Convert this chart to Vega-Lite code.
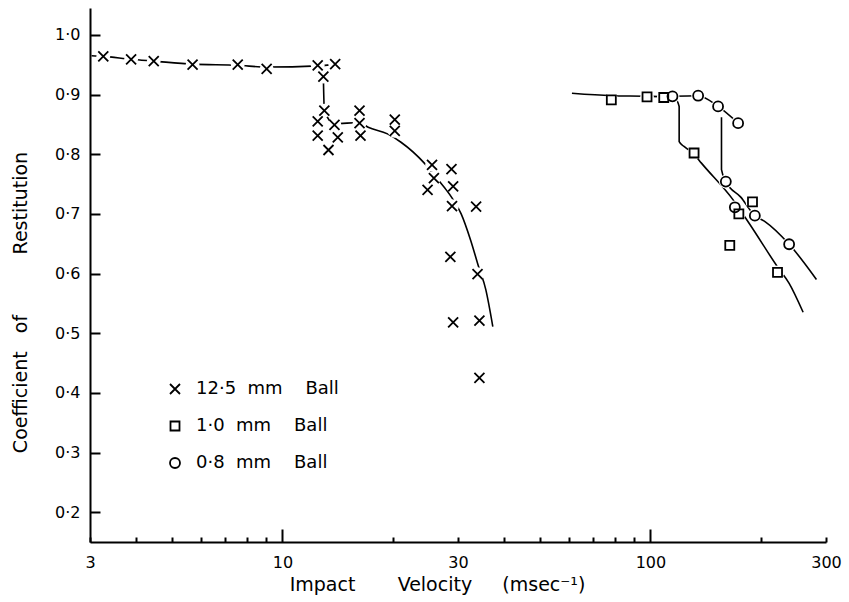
{
  "$schema": "https://vega.github.io/schema/vega-lite/v6.json",
  "autosize": "none",
  "width": 736,
  "height": 534,
  "padding": {"left": 90, "top": 8, "right": 23, "bottom": 60},
  "background": "white",
  "config": {
    "view": {"stroke": null},
    "font": "DejaVu Sans",
    "axis": {"grid": false, "domainColor": "black", "domainWidth": 2, "labelColor": "black", "titleColor": "black", "labelFont": "DejaVu Sans", "titleFont": "DejaVu Sans", "titleFontWeight": "normal"}
  },
  "datasets": {
    "points": [
      {"v": 3.26, "e": 0.964, "ball": "12·5 mm Ball"},
      {"v": 3.88, "e": 0.959, "ball": "12·5 mm Ball"},
      {"v": 4.47, "e": 0.956, "ball": "12·5 mm Ball"},
      {"v": 5.70, "e": 0.950, "ball": "12·5 mm Ball"},
      {"v": 7.56, "e": 0.950, "ball": "12·5 mm Ball"},
      {"v": 9.06, "e": 0.943, "ball": "12·5 mm Ball"},
      {"v": 12.47, "e": 0.949, "ball": "12·5 mm Ball"},
      {"v": 13.91, "e": 0.951, "ball": "12·5 mm Ball"},
      {"v": 12.92, "e": 0.930, "ball": "12·5 mm Ball"},
      {"v": 13.0, "e": 0.873, "ball": "12·5 mm Ball"},
      {"v": 12.47, "e": 0.855, "ball": "12·5 mm Ball"},
      {"v": 12.47, "e": 0.831, "ball": "12·5 mm Ball"},
      {"v": 13.85, "e": 0.849, "ball": "12·5 mm Ball"},
      {"v": 13.34, "e": 0.807, "ball": "12·5 mm Ball"},
      {"v": 14.14, "e": 0.828, "ball": "12·5 mm Ball"},
      {"v": 16.2, "e": 0.873, "ball": "12·5 mm Ball"},
      {"v": 16.2, "e": 0.852, "ball": "12·5 mm Ball"},
      {"v": 16.3, "e": 0.831, "ball": "12·5 mm Ball"},
      {"v": 20.2, "e": 0.858, "ball": "12·5 mm Ball"},
      {"v": 20.2, "e": 0.839, "ball": "12·5 mm Ball"},
      {"v": 25.5, "e": 0.782, "ball": "12·5 mm Ball"},
      {"v": 28.8, "e": 0.775, "ball": "12·5 mm Ball"},
      {"v": 25.8, "e": 0.760, "ball": "12·5 mm Ball"},
      {"v": 24.8, "e": 0.740, "ball": "12·5 mm Ball"},
      {"v": 29.1, "e": 0.746, "ball": "12·5 mm Ball"},
      {"v": 28.9, "e": 0.713, "ball": "12·5 mm Ball"},
      {"v": 33.6, "e": 0.712, "ball": "12·5 mm Ball"},
      {"v": 28.6, "e": 0.628, "ball": "12·5 mm Ball"},
      {"v": 33.9, "e": 0.599, "ball": "12·5 mm Ball"},
      {"v": 29.1, "e": 0.518, "ball": "12·5 mm Ball"},
      {"v": 34.3, "e": 0.521, "ball": "12·5 mm Ball"},
      {"v": 34.3, "e": 0.425, "ball": "12·5 mm Ball"},
      {"v": 78.3, "e": 0.891, "ball": "1·0 mm Ball"},
      {"v": 97.9, "e": 0.896, "ball": "1·0 mm Ball"},
      {"v": 108.7, "e": 0.895, "ball": "1·0 mm Ball"},
      {"v": 131.4, "e": 0.802, "ball": "1·0 mm Ball"},
      {"v": 189.4, "e": 0.720, "ball": "1·0 mm Ball"},
      {"v": 173.9, "e": 0.700, "ball": "1·0 mm Ball"},
      {"v": 164.3, "e": 0.647, "ball": "1·0 mm Ball"},
      {"v": 221.5, "e": 0.602, "ball": "1·0 mm Ball"},
      {"v": 114.8, "e": 0.897, "ball": "0·8 mm Ball"},
      {"v": 134.8, "e": 0.898, "ball": "0·8 mm Ball"},
      {"v": 152.7, "e": 0.880, "ball": "0·8 mm Ball"},
      {"v": 173.1, "e": 0.852, "ball": "0·8 mm Ball"},
      {"v": 160.3, "e": 0.754, "ball": "0·8 mm Ball"},
      {"v": 169.6, "e": 0.711, "ball": "0·8 mm Ball"},
      {"v": 192.2, "e": 0.697, "ball": "0·8 mm Ball"},
      {"v": 238.2, "e": 0.649, "ball": "0·8 mm Ball"}
    ],
    "curves": [
      {"v": 3.03, "e": 0.965, "seg": "c1a"},
      {"v": 3.26, "e": 0.964, "seg": "c1a"},
      {"v": 3.88, "e": 0.959, "seg": "c1a"},
      {"v": 4.47, "e": 0.956, "seg": "c1a"},
      {"v": 5.70, "e": 0.951, "seg": "c1a"},
      {"v": 7.56, "e": 0.949, "seg": "c1a"},
      {"v": 9.06, "e": 0.946, "seg": "c1a"},
      {"v": 12.47, "e": 0.948, "seg": "c1a"},
      {"v": 13.91, "e": 0.951, "seg": "c1a"},
      {"v": 12.92, "e": 0.930, "seg": "c1b"},
      {"v": 13.0, "e": 0.873, "seg": "c1b"},
      {"v": 13.85, "e": 0.851, "seg": "c1b"},
      {"v": 16.2, "e": 0.853, "seg": "c1b"},
      {"v": 17.1, "e": 0.845, "seg": "c1b"},
      {"v": 19.3, "e": 0.834, "seg": "c1b"},
      {"v": 21.0, "e": 0.820, "seg": "c1b"},
      {"v": 24.3, "e": 0.785, "seg": "c1b"},
      {"v": 26.5, "e": 0.757, "seg": "c1b"},
      {"v": 28.8, "e": 0.728, "seg": "c1b"},
      {"v": 30.6, "e": 0.700, "seg": "c1b"},
      {"v": 32.5, "e": 0.655, "seg": "c1b"},
      {"v": 34.1, "e": 0.612, "seg": "c1b"},
      {"v": 35.7, "e": 0.573, "seg": "c1b"},
      {"v": 37.3, "e": 0.511, "seg": "c1b"},
      {"v": 61.2, "e": 0.902, "seg": "c2"},
      {"v": 78.3, "e": 0.898, "seg": "c2"},
      {"v": 97.9, "e": 0.897, "seg": "c2"},
      {"v": 108.7, "e": 0.896, "seg": "c2"},
      {"v": 117.0, "e": 0.892, "seg": "c2"},
      {"v": 119.7, "e": 0.880, "seg": "c2"},
      {"v": 119.7, "e": 0.821, "seg": "c2"},
      {"v": 123.4, "e": 0.813, "seg": "c2"},
      {"v": 131.4, "e": 0.800, "seg": "c2"},
      {"v": 137.6, "e": 0.785, "seg": "c2"},
      {"v": 168.0, "e": 0.723, "seg": "c2"},
      {"v": 186.0, "e": 0.683, "seg": "c2"},
      {"v": 221.6, "e": 0.611, "seg": "c2"},
      {"v": 238.0, "e": 0.584, "seg": "c2"},
      {"v": 260.0, "e": 0.535, "seg": "c2"},
      {"v": 114.8, "e": 0.897, "seg": "c3a"},
      {"v": 134.8, "e": 0.898, "seg": "c3a"},
      {"v": 152.7, "e": 0.880, "seg": "c3a"},
      {"v": 173.1, "e": 0.852, "seg": "c3a"},
      {"v": 156.0, "e": 0.862, "seg": "c3b"},
      {"v": 156.0, "e": 0.774, "seg": "c3b"},
      {"v": 160.3, "e": 0.754, "seg": "c3b"},
      {"v": 176.0, "e": 0.728, "seg": "c3b"},
      {"v": 192.2, "e": 0.697, "seg": "c3b"},
      {"v": 204.8, "e": 0.687, "seg": "c3b"},
      {"v": 238.2, "e": 0.649, "seg": "c3b"},
      {"v": 282.6, "e": 0.590, "seg": "c3b"}
    ]
  },
  "resolve": {"axis": {"x": "independent", "y": "independent"}},
  "layer": [
    {
      "data": {"name": "curves"},
      "mark": {"type": "line", "color": "black", "strokeWidth": 1.6, "interpolate": "monotone"},
      "encoding": {
        "x": {
          "field": "v", "type": "quantitative",
          "scale": {"type": "log", "domain": [3, 300], "nice": false},
          "axis": {
            "orient": "bottom",
            "values": [3, 10, 30, 100, 300],
            "ticks": false,
            "format": "d",
            "labelOverlap": false,
            "labelBound": false,
            "labelFlush": false,
            "labelFontSize": 16,
            "labelPadding": 12,
            "title": "Impact\u00a0\u00a0\u00a0\u00a0\u00a0\u00a0\u00a0Velocity\u00a0\u00a0\u00a0\u00a0\u00a0(msec⁻¹)",
            "titleFontSize": 19,
            "titleX": 347,
            "titleY": 42,
            "titleAnchor": "middle",
            "titleBaseline": "middle"
          }
        },
        "y": {
          "field": "e", "type": "quantitative",
          "scale": {"domain": [0.15, 1.045], "nice": false, "zero": false},
          "axis": {
            "orient": "left",
            "values": [0.2, 0.3, 0.4, 0.5, 0.6, 0.7, 0.8, 0.9, 1.0],
            "ticks": false,
            "labelPadding": 10,
            "labelFontSize": 16,
            "labelExpr": "replace(format(datum.value, '.1f'), '.', '·')",
            "title": "Coefficient\u00a0\u00a0\u00a0of\u00a0\u00a0\u00a0\u00a0\u00a0\u00a0\u00a0\u00a0\u00a0\u00a0Restitution",
            "titleFontSize": 19,
            "titleAngle": -90,
            "titleX": -70,
            "titleY": 294,
            "titleAnchor": "middle",
            "titleBaseline": "middle"
          }
        },
        "detail": {"field": "seg"}
      }
    },
    {
      "data": {"name": "points"},
      "mark": {"type": "point", "shape": "circle", "filled": true, "color": "white", "size": 190, "opacity": 1},
      "encoding": {
        "x": {
          "field": "v", "type": "quantitative",
          "axis": {
            "orient": "top",
            "offset": -534,
            "values": [3, 4, 5, 6, 7, 8, 9, 20, 30, 40, 50, 60, 70, 80, 90, 200, 300],
            "tickSize": 5,
            "tickColor": "black",
            "tickWidth": 2,
            "labels": false,
            "domain": false,
            "title": null
          }
        },
        "y": {
          "field": "e", "type": "quantitative",
          "axis": {
            "orient": "right",
            "offset": -736,
            "values": [0.2, 0.3, 0.4, 0.5, 0.6, 0.7, 0.8, 0.9, 1.0],
            "tickSize": 10,
            "tickColor": "black",
            "tickWidth": 2,
            "labels": false,
            "domain": false,
            "title": null
          }
        }
      }
    },
    {
      "data": {"name": "points"},
      "mark": {"type": "point", "filled": false, "stroke": "black", "strokeWidth": 1.8, "size": 100, "opacity": 1},
      "encoding": {
        "x": {
          "field": "v", "type": "quantitative",
          "axis": {
            "orient": "bottom",
            "values": [10, 100],
            "tickSize": -13,
            "tickColor": "black",
            "tickWidth": 2,
            "labels": false,
            "domain": false,
            "title": null
          }
        },
        "y": {"field": "e", "type": "quantitative", "axis": null},
        "shape": {
          "field": "ball", "type": "nominal",
          "scale": {
            "domain": ["12·5 mm Ball", "1·0 mm Ball", "0·8 mm Ball"],
            "range": ["M-1,-1L1,1M-1,1L1,-1", "M-0.9,-0.9H0.9V0.9H-0.9Z", "circle"]
          },
          "legend": {
            "orient": "none",
            "legendX": 76,
            "legendY": 372,
            "title": null,
            "padding": 0,
            "rowPadding": 19,
            "symbolSize": 100,
            "symbolStrokeColor": "black",
            "symbolStrokeWidth": 1.8,
            "symbolFillColor": "transparent",
            "labelFont": "DejaVu Sans",
            "labelFontSize": 18,
            "labelColor": "black",
            "labelOffset": 12,
            "labelLimit": 0,
            "labelExpr": "(datum.label == '12·5 mm Ball' ? '' : '\u2007') + replace(replace(datum.label, ' mm ', '\u00a0\u00a0mm\u00a0\u00a0\u00a0\u00a0'), ' ', '')"
          }
        }
      }
    }
  ]
}
